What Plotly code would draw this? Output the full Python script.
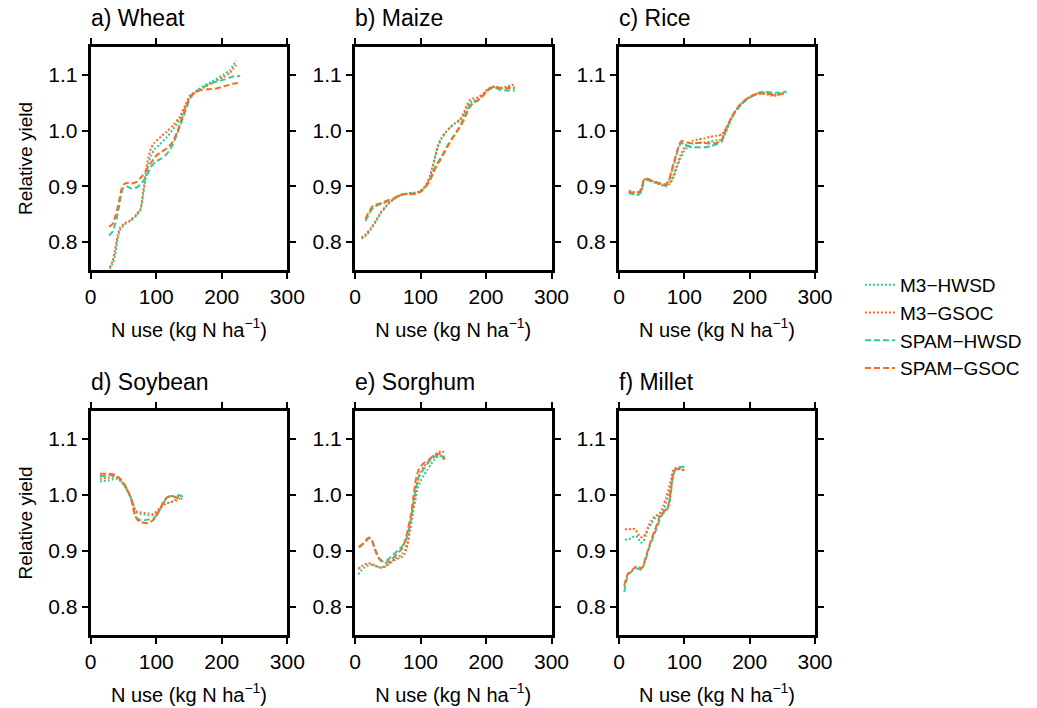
import plotly.graph_objects as go
from plotly.subplots import make_subplots

# ---------------- data ----------------
crops = ["a) Wheat", "b) Maize", "c) Rice", "d) Soybean", "e) Sorghum", "f) Millet"]
series_names = ["M3\u2212HWSD", "M3\u2212GSOC", "SPAM\u2212HWSD", "SPAM\u2212GSOC"]
x_ticks = [0, 100, 200, 300]
y_ticks = [0.8, 0.9, 1.0, 1.1]

# Wheat
wheat_x_m3 = [29, 33, 37, 41, 45, 52, 61, 70, 76, 80, 84, 88, 92, 97, 105, 116, 126, 136, 145, 152, 160, 172, 185, 202, 212, 222]
wheat_m3_hwsd = [0.752, 0.760, 0.775, 0.805, 0.822, 0.832, 0.838, 0.848, 0.858, 0.885, 0.915, 0.940, 0.955, 0.966, 0.975, 0.988, 1.003, 1.020, 1.045, 1.063, 1.070, 1.080, 1.088, 1.100, 1.108, 1.126]
wheat_m3_gsoc = [0.755, 0.765, 0.785, 0.812, 0.826, 0.834, 0.840, 0.850, 0.860, 0.890, 0.925, 0.952, 0.968, 0.978, 0.987, 0.998, 1.010, 1.025, 1.048, 1.064, 1.069, 1.077, 1.085, 1.096, 1.103, 1.118]
wheat_x_spam = [28, 33, 38, 43, 47, 50, 55, 62, 70, 78, 85, 92, 100, 108, 116, 124, 132, 140, 146, 152, 160, 168, 178, 190, 205, 217, 228]
wheat_spam_hwsd = [0.812, 0.818, 0.835, 0.862, 0.888, 0.898, 0.900, 0.896, 0.898, 0.906, 0.918, 0.935, 0.945, 0.950, 0.958, 0.972, 0.995, 1.020, 1.040, 1.058, 1.070, 1.075, 1.082, 1.087, 1.092, 1.097, 1.098]
wheat_spam_gsoc = [0.828, 0.832, 0.848, 0.872, 0.895, 0.903, 0.906, 0.905, 0.908, 0.918, 0.930, 0.942, 0.955, 0.962, 0.968, 0.978, 0.998, 1.025, 1.045, 1.062, 1.068, 1.073, 1.074, 1.075, 1.080, 1.084, 1.086]

# Maize
maize_x_m3 = [10, 17, 24, 32, 39, 47, 54, 62, 70, 80, 90, 97, 104, 110, 115, 119, 123, 127, 132, 138, 145, 152, 160, 166, 171, 176, 181, 189, 196, 202, 212, 222, 232, 244]
maize_m3_hwsd = [0.806, 0.812, 0.822, 0.837, 0.851, 0.863, 0.872, 0.879, 0.884, 0.887, 0.889, 0.890, 0.895, 0.905, 0.918, 0.935, 0.955, 0.972, 0.985, 0.996, 1.005, 1.012, 1.018, 1.028, 1.040, 1.050, 1.054, 1.057, 1.065, 1.072, 1.078, 1.076, 1.076, 1.076]
maize_m3_gsoc = [0.808, 0.815, 0.825, 0.839, 0.853, 0.865, 0.873, 0.880, 0.885, 0.887, 0.888, 0.890, 0.896, 0.907, 0.921, 0.938, 0.958, 0.975, 0.987, 0.997, 1.006, 1.013, 1.020, 1.032, 1.046, 1.056, 1.058, 1.060, 1.067, 1.074, 1.079, 1.077, 1.079, 1.083]
maize_x_spam = [16, 22, 28, 34, 42, 50, 58, 66, 74, 84, 94, 102, 108, 114, 119, 124, 130, 136, 142, 148, 155, 162, 168, 174, 180, 188, 196, 202, 212, 222, 232, 244]
maize_spam_hwsd = [0.838, 0.852, 0.862, 0.866, 0.869, 0.873, 0.877, 0.882, 0.886, 0.887, 0.888, 0.893, 0.900, 0.912, 0.925, 0.938, 0.950, 0.962, 0.975, 0.986, 0.998, 1.012, 1.027, 1.042, 1.050, 1.054, 1.063, 1.071, 1.078, 1.073, 1.072, 1.072]
maize_spam_gsoc = [0.842, 0.856, 0.866, 0.868, 0.871, 0.875, 0.878, 0.883, 0.886, 0.886, 0.887, 0.892, 0.899, 0.910, 0.922, 0.935, 0.947, 0.960, 0.973, 0.985, 0.997, 1.010, 1.024, 1.040, 1.049, 1.055, 1.064, 1.073, 1.079, 1.076, 1.076, 1.078]

# Rice
rice_x_m3 = [15, 22, 30, 35, 38, 43, 50, 58, 65, 72, 78, 83, 88, 94, 100, 106, 113, 120, 130, 140, 150, 157, 162, 168, 175, 182, 190, 198, 206, 214, 222, 230, 238, 246, 256]
rice_m3_hwsd = [0.890, 0.887, 0.885, 0.893, 0.910, 0.912, 0.909, 0.906, 0.902, 0.900, 0.905, 0.915, 0.932, 0.950, 0.964, 0.972, 0.977, 0.978, 0.979, 0.980, 0.983, 0.984, 0.992, 1.010, 1.028, 1.040, 1.050, 1.058, 1.064, 1.067, 1.068, 1.066, 1.064, 1.066, 1.070]
rice_m3_gsoc = [0.892, 0.890, 0.890, 0.897, 0.912, 0.914, 0.910, 0.907, 0.904, 0.902, 0.907, 0.918, 0.936, 0.955, 0.970, 0.978, 0.982, 0.984, 0.986, 0.989, 0.991, 0.993, 1.000, 1.014, 1.030, 1.042, 1.052, 1.059, 1.064, 1.066, 1.066, 1.064, 1.062, 1.065, 1.068]
rice_x_spam = [15, 22, 30, 35, 38, 43, 50, 58, 65, 72, 77, 82, 87, 92, 96, 100, 106, 113, 120, 130, 140, 150, 157, 162, 168, 175, 182, 190, 198, 206, 214, 222, 230, 238, 246, 256]
rice_spam_hwsd = [0.888, 0.886, 0.885, 0.895, 0.910, 0.912, 0.908, 0.906, 0.903, 0.902, 0.912, 0.932, 0.952, 0.972, 0.978, 0.975, 0.972, 0.970, 0.970, 0.970, 0.972, 0.976, 0.980, 0.995, 1.012, 1.028, 1.040, 1.050, 1.058, 1.063, 1.068, 1.070, 1.069, 1.068, 1.068, 1.070]
rice_spam_gsoc = [0.890, 0.889, 0.889, 0.897, 0.912, 0.914, 0.910, 0.907, 0.905, 0.904, 0.914, 0.935, 0.955, 0.975, 0.982, 0.980, 0.978, 0.977, 0.978, 0.978, 0.977, 0.978, 0.983, 0.998, 1.014, 1.030, 1.042, 1.052, 1.059, 1.064, 1.066, 1.067, 1.066, 1.064, 1.065, 1.067]

# Soybean
soy_x_m3 = [14, 20, 27, 34, 40, 46, 52, 58, 63, 67, 71, 76, 82, 88, 95, 100, 106, 112, 118, 124, 130, 135, 140]
soy_m3_hwsd = [1.024, 1.025, 1.026, 1.028, 1.028, 1.024, 1.015, 1.003, 0.990, 0.975, 0.968, 0.966, 0.965, 0.964, 0.964, 0.968, 0.976, 0.983, 0.986, 0.988, 0.992, 0.998, 0.998]
soy_m3_gsoc = [1.029, 1.030, 1.031, 1.032, 1.031, 1.026, 1.016, 1.004, 0.990, 0.977, 0.970, 0.969, 0.968, 0.967, 0.966, 0.970, 0.977, 0.983, 0.986, 0.988, 0.990, 0.993, 0.994]
soy_x_spam = [14, 20, 27, 34, 40, 46, 52, 58, 63, 67, 71, 76, 82, 88, 95, 100, 106, 112, 118, 124, 130, 135, 140]
soy_spam_hwsd = [1.034, 1.034, 1.035, 1.035, 1.033, 1.027, 1.017, 1.004, 0.988, 0.968, 0.958, 0.955, 0.955, 0.956, 0.958, 0.963, 0.975, 0.988, 0.996, 0.998, 0.997, 1.000, 0.996]
soy_spam_gsoc = [1.038, 1.038, 1.038, 1.037, 1.034, 1.028, 1.018, 1.004, 0.987, 0.965, 0.956, 0.952, 0.950, 0.950, 0.955, 0.962, 0.976, 0.990, 0.997, 0.998, 0.996, 0.993, 0.994]

# Sorghum
sorg_x_m3 = [5, 10, 15, 20, 26, 31, 36, 41, 46, 51, 56, 61, 67, 72, 76, 80, 84, 88, 92, 96, 100, 105, 110, 116, 122, 128, 133, 137]
sorg_m3_hwsd = [0.858, 0.866, 0.871, 0.874, 0.875, 0.873, 0.871, 0.871, 0.873, 0.877, 0.882, 0.886, 0.890, 0.895, 0.902, 0.915, 0.938, 0.965, 0.990, 1.012, 1.025, 1.035, 1.044, 1.055, 1.064, 1.070, 1.070, 1.068]
sorg_m3_gsoc = [0.868, 0.873, 0.876, 0.878, 0.877, 0.874, 0.871, 0.870, 0.872, 0.876, 0.880, 0.884, 0.887, 0.890, 0.895, 0.910, 0.938, 0.968, 0.998, 1.025, 1.040, 1.050, 1.058, 1.066, 1.072, 1.077, 1.078, 1.074]
sorg_x_spam = [6, 12, 17, 21, 24, 27, 30, 34, 38, 42, 47, 52, 57, 62, 67, 72, 77, 81, 85, 89, 93, 97, 101, 106, 112, 118, 124, 129, 134, 137]
sorg_spam_hwsd = [0.906, 0.912, 0.918, 0.922, 0.922, 0.915, 0.905, 0.894, 0.886, 0.882, 0.882, 0.886, 0.892, 0.897, 0.903, 0.908, 0.918, 0.932, 0.955, 0.985, 1.012, 1.032, 1.040, 1.048, 1.058, 1.066, 1.070, 1.072, 1.068, 1.058]
sorg_spam_gsoc = [0.908, 0.913, 0.920, 0.924, 0.923, 0.916, 0.904, 0.892, 0.884, 0.880, 0.879, 0.881, 0.886, 0.892, 0.898, 0.905, 0.920, 0.940, 0.962, 0.995, 1.028, 1.045, 1.052, 1.058, 1.062, 1.068, 1.072, 1.074, 1.068, 1.064]

# Millet
mil_x_m3 = [9, 15, 20, 25, 29, 33, 37, 41, 45, 50, 55, 60, 64, 68, 72, 76, 80, 83, 86, 90, 95, 100]
mil_m3_hwsd = [0.920, 0.921, 0.924, 0.927, 0.924, 0.915, 0.917, 0.928, 0.940, 0.950, 0.958, 0.962, 0.966, 0.972, 0.985, 1.000, 1.020, 1.038, 1.045, 1.048, 1.050, 1.050]
mil_m3_gsoc = [0.939, 0.939, 0.940, 0.939, 0.930, 0.925, 0.925, 0.932, 0.945, 0.955, 0.962, 0.965, 0.970, 0.982, 0.995, 1.010, 1.030, 1.045, 1.048, 1.047, 1.046, 1.044]
mil_x_spam = [8, 11, 14, 18, 22, 26, 30, 34, 38, 42, 46, 50, 54, 58, 62, 66, 70, 74, 77, 80, 83, 86, 90, 95, 100]
mil_spam_hwsd = [0.827, 0.845, 0.858, 0.862, 0.866, 0.869, 0.868, 0.866, 0.875, 0.890, 0.905, 0.918, 0.930, 0.942, 0.955, 0.965, 0.970, 0.975, 0.985, 1.010, 1.035, 1.045, 1.048, 1.050, 1.052]
mil_spam_gsoc = [0.838, 0.852, 0.860, 0.864, 0.868, 0.872, 0.873, 0.868, 0.877, 0.893, 0.908, 0.922, 0.935, 0.947, 0.960, 0.968, 0.972, 0.976, 0.990, 1.015, 1.038, 1.046, 1.046, 1.045, 1.044]

panel_data = [
    (wheat_x_m3, wheat_m3_hwsd, wheat_m3_gsoc, wheat_x_spam, wheat_spam_hwsd, wheat_spam_gsoc),
    (maize_x_m3, maize_m3_hwsd, maize_m3_gsoc, maize_x_spam, maize_spam_hwsd, maize_spam_gsoc),
    (rice_x_m3, rice_m3_hwsd, rice_m3_gsoc, rice_x_spam, rice_spam_hwsd, rice_spam_gsoc),
    (soy_x_m3, soy_m3_hwsd, soy_m3_gsoc, soy_x_spam, soy_spam_hwsd, soy_spam_gsoc),
    (sorg_x_m3, sorg_m3_hwsd, sorg_m3_gsoc, sorg_x_spam, sorg_spam_hwsd, sorg_spam_gsoc),
    (mil_x_m3, mil_m3_hwsd, mil_m3_gsoc, mil_x_spam, mil_spam_hwsd, mil_spam_gsoc),
]

# ---------------- style ----------------
GREEN = "#2fcc98"
ORANGE = "#ff6a1f"
FONT = "Liberation Sans, Arial, Helvetica, sans-serif"
DOT = "2px,2px"
DASH = "6px,3px"
styles = [(GREEN, DOT), (ORANGE, DOT), (GREEN, DASH), (ORANGE, DASH)]

W, H = 1037, 708
col_px = [(90.7, 287.3), (355.0, 551.5), (619.0, 815.0)]
row_px = [(47.0, 270.0), (411.0, 635.0)]

fig = make_subplots(rows=2, cols=3)

for i, (xm, m_h, m_g, xs, s_h, s_g) in enumerate(panel_data):
    r, c = i // 3 + 1, i % 3 + 1
    xy = [(xm, m_h), (xm, m_g), (xs, s_h), (xs, s_g)]
    for k, (xx, yy) in enumerate(xy):
        col, dash = styles[k]
        fig.add_trace(go.Scatter(
            x=xx, y=yy, mode="lines", name=series_names[k],
            line=dict(color=col, dash=dash, width=2, shape="spline", smoothing=0.6),
            showlegend=(i == 0), legendgroup=series_names[k]),
            row=r, col=c)

for i in range(6):
    r, c = i // 3, i % 3
    x0, x1 = col_px[c]
    y0, y1 = row_px[r]
    sfx = "" if i == 0 else str(i + 1)
    fig.layout["xaxis" + sfx].update(
        domain=[x0 / W, x1 / W], range=[0, 300], tickvals=x_ticks,
        automargin=False,
        showline=True, linewidth=3, linecolor="black", mirror="ticks",
        ticks="outside", ticklen=6, tickwidth=1.5, tickcolor="black",
        showgrid=False, zeroline=False,
        tickfont=dict(family=FONT, size=21, color="black"),
        title=dict(text="N use (kg N ha<sup>\u22121</sup>)", standoff=16,
                   font=dict(family=FONT, size=20, color="black")))
    fig.layout["yaxis" + sfx].update(
        domain=[1 - y1 / H, 1 - y0 / H], range=[0.75, 1.15], tickvals=y_ticks,
        tickformat=".1f", automargin=False,
        showline=True, linewidth=3, linecolor="black", mirror="ticks",
        ticks="outside", ticklen=6, tickwidth=1.5, tickcolor="black",
        showgrid=False, zeroline=False,
        tickfont=dict(family=FONT, size=21, color="black"),
        title=dict(text="Relative yield" if c == 0 else "", standoff=11,
                   font=dict(family=FONT, size=19, color="black")))
    fig.add_annotation(
        text=crops[i], xref="paper", yref="paper",
        x=(x0 - 2) / W, y=1 - (y0 - 29) / H,
        xanchor="left", yanchor="middle", showarrow=False,
        font=dict(family=FONT, size=23, color="black"))

fig.update_layout(
    width=W, height=H, autosize=False,
    margin=dict(l=0, r=0, t=0, b=0),
    plot_bgcolor="white", paper_bgcolor="white",
    font=dict(family=FONT, color="black"),
    legend=dict(x=860 / W, y=1 - 266 / H, xanchor="left", yanchor="top",
                font=dict(family=FONT, size=19, color="black"),
                bgcolor="rgba(0,0,0,0)", borderwidth=0, itemwidth=30,
                tracegroupgap=0),
)

fig.write_html("out.html", config={"displayModeBar": False},
               post_script="document.body.style.margin='0';document.body.style.overflow='hidden';")
